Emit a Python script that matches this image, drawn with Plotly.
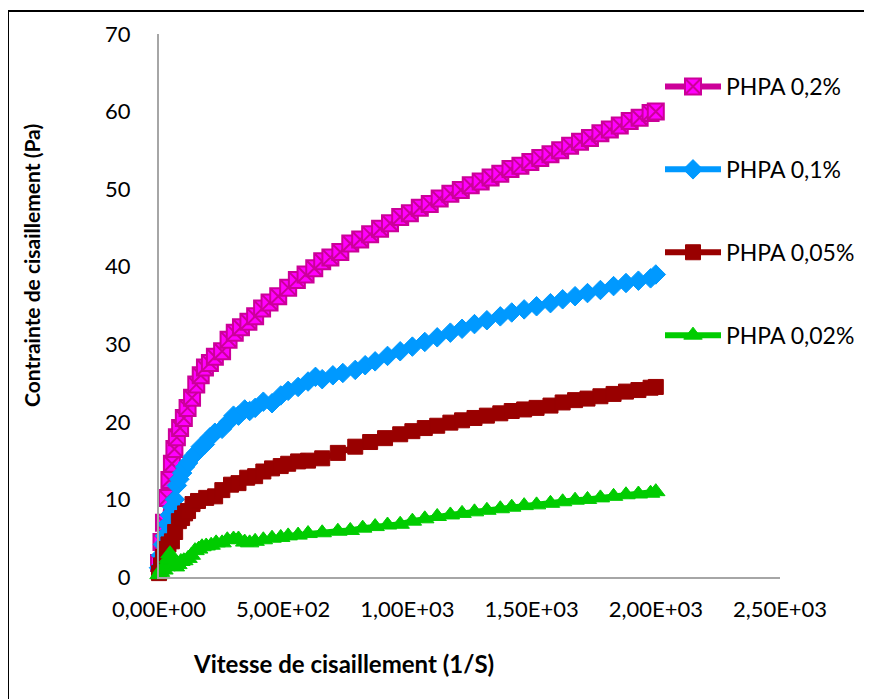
import plotly.graph_objects as go

# ---------------- data ----------------
x_02 = [0, 10, 20, 32, 42, 52, 62, 72, 85, 100, 115, 133, 150, 168, 185, 205, 225, 254, 280, 305,
        330, 360, 387, 415, 445, 480, 520, 555, 590, 625, 657, 690, 730, 770, 810, 850, 890, 930,
        971, 1010, 1050, 1090, 1130, 1173, 1215, 1255, 1295, 1335, 1374, 1415, 1455, 1495, 1535,
        1576, 1615, 1655, 1695, 1735, 1777, 1815, 1855, 1895, 1935, 1979, 2000]
y_02 = [1.8, 4.5, 7.0, 10.2, 12.5, 14.6, 16.5, 18.0, 19.2, 20.5, 21.8, 23.1, 24.8, 26.0, 27.0, 27.6,
        28.4, 29.1, 30.6, 31.5, 32.2, 32.9, 33.6, 34.6, 35.4, 36.2, 37.3, 38.3, 39.0, 39.8, 40.7,
        41.2, 41.9, 43.0, 43.5, 44.2, 44.9, 45.6, 46.4, 46.9, 47.6, 48.1, 48.8, 49.4, 49.9, 50.5,
        51.0, 51.5, 52.0, 52.6, 53.0, 53.5, 54.0, 54.5, 55.0, 55.6, 56.1, 56.6, 57.2, 57.7, 58.2,
        58.8, 59.2, 59.8, 60.0]

x_01 = [0, 8, 16, 24, 34, 44, 54, 64, 72, 82, 93, 105, 117, 135, 150, 168, 185, 205, 225, 254,
        280, 300, 320, 345, 365, 387, 420, 455, 490, 520, 560, 600, 630, 657, 700, 740, 790, 830,
        870, 920, 971, 1020, 1070, 1120, 1173, 1220, 1270, 1320, 1374, 1420, 1470, 1520, 1576,
        1625, 1675, 1725, 1777, 1830, 1880, 1930, 1979, 2000]
y_01 = [1.2, 2.8, 4.2, 5.3, 6.8, 8.0, 9.0, 10.0, 11.8, 12.6, 13.4, 14.2, 14.7, 15.5, 16.0, 16.8,
        17.1, 18.0, 18.6, 19.1, 20.0, 20.8, 20.8, 21.6, 21.4, 21.8, 22.6, 22.4, 23.4, 24.0, 24.5,
        25.2, 25.8, 25.5, 26.0, 26.3, 26.7, 27.3, 27.8, 28.5, 29.1, 29.7, 30.3, 30.9, 31.5, 32.0,
        32.6, 33.1, 33.6, 34.1, 34.5, 34.9, 35.3, 35.8, 36.2, 36.6, 37.0, 37.5, 37.9, 38.2, 38.5,
        39.0]

x_005 = [0, 8, 16, 24, 38, 52, 65, 80, 93, 105, 117, 135, 157, 190, 226, 255, 290, 320, 355, 387,
         420, 455, 490, 520, 560, 600, 657, 720, 790, 850, 910, 971, 1020, 1070, 1120, 1173, 1220,
         1270, 1320, 1374, 1420, 1470, 1520, 1576, 1625, 1675, 1725, 1777, 1830, 1880, 1930, 1979,
         2000]
y_005 = [0.5, 1.5, 2.6, 3.6, 4.2, 4.6, 5.8, 7.2, 7.6, 8.2, 8.5, 9.4, 9.8, 10.2, 10.4, 11.2, 11.9,
         12.1, 12.8, 13.0, 13.6, 14.0, 14.3, 14.6, 14.9, 15.0, 15.3, 16.0, 16.8, 17.4, 17.9, 18.4,
         18.8, 19.2, 19.5, 19.9, 20.2, 20.5, 20.8, 21.1, 21.4, 21.6, 21.8, 22.1, 22.5, 22.8, 23.0,
         23.3, 23.6, 23.9, 24.1, 24.4, 24.5]

x_002 = [0, 6, 12, 20, 30, 38, 44, 50, 58, 66, 76, 88, 100, 117, 130, 145, 160, 173, 190, 210,
         230, 254, 275, 300, 320, 345, 365, 387, 420, 455, 490, 520, 560, 600, 657, 720, 770, 820,
         870, 920, 971, 1020, 1070, 1120, 1173, 1220, 1270, 1320, 1374, 1420, 1470, 1520, 1576,
         1625, 1675, 1725, 1777, 1830, 1880, 1930, 1979, 2000]
y_002 = [0.3, 0.6, 1.0, 0.9, 1.5, 2.4, 3.0, 2.2, 1.5, 1.3, 1.6, 2.0, 2.1, 2.4, 2.8, 3.4, 3.6, 3.9,
         4.0, 4.1, 4.4, 4.4, 4.8, 4.9, 4.9, 4.5, 4.4, 4.6, 4.8, 5.0, 5.1, 5.3, 5.4, 5.6, 5.7, 5.9,
         6.0, 6.3, 6.5, 6.7, 6.8, 7.2, 7.5, 7.8, 8.0, 8.2, 8.4, 8.6, 8.8, 9.0, 9.2, 9.3, 9.5, 9.7,
         9.9, 10.0, 10.2, 10.4, 10.6, 10.7, 10.8, 11.0]

series_names = ["PHPA 0,2%", "PHPA 0,1%", "PHPA 0,05%", "PHPA 0,02%"]
x_tickvals = [0, 500, 1000, 1500, 2000, 2500]
x_ticktext = ["0,00E+00", "5,00E+02", "1,00E+03", "1,50E+03", "2,00E+03", "2,50E+03"]
y_tickvals = [0, 10, 20, 30, 40, 50, 60, 70]

# ---------------- layout helpers (target pixel -> paper) ----------------
W, H = 872, 699
OFF = 8  # page body margin shift
L, R, T, B = 159 - OFF, 780 - OFF, 34 - OFF, 577 - OFF


def px(xp):
    return (xp - OFF - L) / (R - L)


def py(yp):
    return (B - (yp - OFF)) / (B - T)


FONT = "Lato, 'Open Sans', 'Liberation Sans', sans-serif"

styles = [
    dict(line_color="#CC0099", symbol="square-x", fill="#FF00FF", mline="#CC0099", mw=2, size=16),
    dict(line_color="#0099FF", symbol="diamond", fill="#0099FF", mline="#0099FF", mw=1, size=15),
    dict(line_color="#990000", symbol="square", fill="#990000", mline="#990000", mw=1, size=15),
    dict(line_color="#00CC00", symbol="triangle-up", fill="#00CC00", mline="#00CC00", mw=1, size=16),
]
data = [(x_02, y_02), (x_01, y_01), (x_005, y_005), (x_002, y_002)]

fig = go.Figure()
for (xs, ys), name, st in zip(data, series_names, styles):
    fig.add_trace(go.Scatter(
        x=xs, y=ys, name=name, mode="lines+markers",
        legendgroup=name,
        line=dict(color=st["line_color"], width=6),
        marker=dict(symbol=st["symbol"], size=st["size"], color=st["fill"],
                    line=dict(color=st["mline"], width=st["mw"])),
        cliponaxis=False,
    ))

fig.update_layout(
    width=W, height=H,
    margin=dict(l=L, r=W - R, t=T, b=H - B, pad=0),
    paper_bgcolor="white", plot_bgcolor="white",
    font=dict(family=FONT, size=22, color="#000000"),
    showlegend=True,
    legend=dict(x=px(660), y=py(65), xanchor="left", yanchor="top",
                bgcolor="rgba(0,0,0,0)", tracegroupgap=50,
                font=dict(family=FONT, size=23, color="#000000"),
                itemwidth=56),
    xaxis=dict(range=[0, 2500], tickvals=x_tickvals, ticktext=x_ticktext,
               showgrid=False, zeroline=False, showline=True,
               linecolor="#A6A6A6", linewidth=2, ticks="",
               ticklabelstandoff=12,
               tickfont=dict(family=FONT, size=22, color="#000000")),
    yaxis=dict(range=[0, 70], tickvals=y_tickvals,
               showgrid=False, zeroline=False, showline=True,
               linecolor="#A6A6A6", linewidth=2, ticks="",
               ticklabelstandoff=22,
               tickfont=dict(family=FONT, size=22, color="#000000")),
    annotations=[
        dict(text="<b>Contrainte de cisaillement (Pa)</b>", xref="paper", yref="paper",
             x=px(31), y=py(266), xanchor="center", yanchor="middle",
             textangle=-90, showarrow=False,
             font=dict(family=FONT, size=21, color="#000000")),
        dict(text="<b>Vitesse de cisaillement (1/S)</b>", xref="paper", yref="paper",
             x=px(343), y=py(663), xanchor="center", yanchor="middle", showarrow=False,
             font=dict(family=FONT, size=24, color="#000000")),
    ],
    shapes=[
        dict(type="line", xref="paper", yref="paper", x0=px(8), x1=px(885), y0=py(11), y1=py(11),
             line=dict(color="black", width=2)),
        dict(type="line", xref="paper", yref="paper", x0=px(8), x1=px(8), y0=py(11), y1=py(720),
             line=dict(color="black", width=2)),
    ],
)

fig.write_html("out.html")
